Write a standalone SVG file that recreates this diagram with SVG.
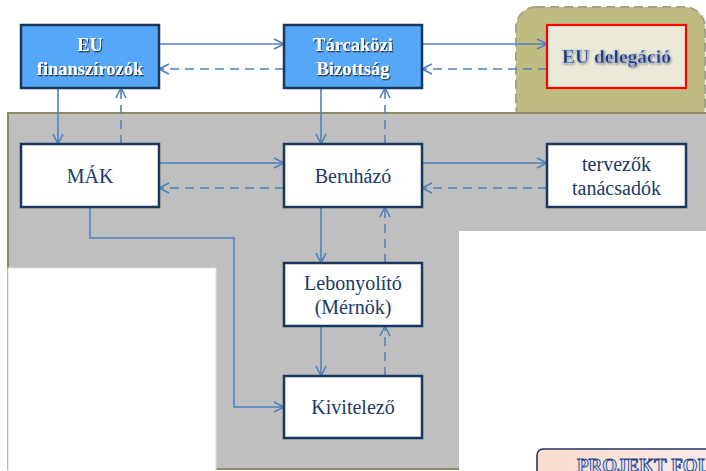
<svg xmlns="http://www.w3.org/2000/svg" width="706" height="471" viewBox="0 0 706 471">
<style>
.node rect{stroke:#17375E;stroke-width:2.5}
.white{fill:#FFFFFF}
.blue{fill:#57A7F9}
.t{font-family:"Liberation Serif","Times New Roman",serif;font-size:20px;fill:#1B3A66;text-anchor:middle}
.tb{font-family:"Liberation Serif","Times New Roman",serif;font-size:18.5px;font-weight:bold;fill:#FFFFFF;text-anchor:middle}
.c{fill:none;stroke:#4F81BD;stroke-width:1.6}
.d{stroke-dasharray:9 6}
</style>
<defs>
<marker id="ah" markerUnits="userSpaceOnUse" markerWidth="12" markerHeight="12" refX="10" refY="5" orient="auto" overflow="visible">
<path d="M0,0 L10,5 L0,10" fill="none" stroke="#4F81BD" stroke-width="1.6"/>
</marker>
<filter id="sh" x="-10%" y="-30%" width="130%" height="160%">
<feDropShadow dx="1" dy="1.3" stdDeviation="0.7" flood-color="#1a1a1a" flood-opacity="0.85"/>
</filter>
<filter id="sh2" x="-10%" y="-30%" width="130%" height="160%">
<feDropShadow dx="0.8" dy="1" stdDeviation="0.8" flood-color="#555555" flood-opacity="0.7"/>
</filter>
<linearGradient id="pg" x1="0" y1="0" x2="1" y2="0">
<stop offset="0" stop-color="#F9DCCB"/>
<stop offset="1" stop-color="#FDEDEF"/>
</linearGradient>
</defs>

<!-- background regions -->
<rect x="516" y="7" width="189" height="120" rx="20" fill="#BFBC82" stroke="#A6A486" stroke-width="2" stroke-dasharray="9 5"/>
<rect x="8" y="113" width="700" height="356" fill="#BFBFBF" stroke="#8E8B63" stroke-width="2"/>
<rect x="8" y="268" width="208" height="204" fill="#FFFFFF" stroke="#E6E6DC" stroke-width="1"/>
<rect x="459" y="231" width="250" height="242" fill="#FFFFFF"/>

<!-- connectors -->
<g id="connectors">
<line class="c" x1="159" y1="44" x2="284" y2="44" marker-end="url(#ah)"/>
<line class="c d" x1="284" y1="69" x2="159" y2="69" marker-end="url(#ah)"/>
<line class="c" x1="422" y1="44" x2="547" y2="44" marker-end="url(#ah)"/>
<line class="c d" x1="547" y1="69" x2="422" y2="69" marker-end="url(#ah)"/>
<line class="c" x1="58" y1="88" x2="58" y2="144" marker-end="url(#ah)"/>
<line class="c d" x1="121" y1="144" x2="121" y2="88" marker-end="url(#ah)"/>
<line class="c" x1="321" y1="88" x2="321" y2="144" marker-end="url(#ah)"/>
<line class="c d" x1="385" y1="144" x2="385" y2="88" marker-end="url(#ah)"/>
<line class="c" x1="159" y1="163" x2="284" y2="163" marker-end="url(#ah)"/>
<line class="c d" x1="284" y1="188" x2="159" y2="188" marker-end="url(#ah)"/>
<line class="c" x1="422" y1="163" x2="547" y2="163" marker-end="url(#ah)"/>
<line class="c d" x1="547" y1="188" x2="422" y2="188" marker-end="url(#ah)"/>
<line class="c" x1="321" y1="207" x2="321" y2="263" marker-end="url(#ah)"/>
<line class="c d" x1="385" y1="263" x2="385" y2="207" marker-end="url(#ah)"/>
<line class="c" x1="321" y1="326" x2="321" y2="376" marker-end="url(#ah)"/>
<line class="c d" x1="385" y1="376" x2="385" y2="326" marker-end="url(#ah)"/>
<polyline class="c" points="90,207 90,238 234,238 234,407 284,407" marker-end="url(#ah)"/>
</g>

<!-- nodes -->
<g id="eu-finanszirozok" class="node">
<rect class="blue" x="21" y="25" width="138" height="63"/>
<text class="tb" x="90" y="51" filter="url(#sh)">EU</text>
<text class="tb" x="90" y="75" filter="url(#sh)">finanszírozók</text>
</g>
<g id="tarcakozi-bizottsag" class="node">
<rect class="blue" x="284" y="25" width="138" height="63"/>
<text class="tb" x="353" y="51" filter="url(#sh)">Tárcaközi</text>
<text class="tb" x="353" y="75" filter="url(#sh)">Bizottság</text>
</g>
<g id="eu-delegacio">
<rect x="547" y="25" width="139" height="63" fill="#EBE9D7" stroke="#FF0000" stroke-width="2.2"/>
<text x="616.5" y="63" font-family="'Liberation Serif','Times New Roman',serif" font-size="19.5" font-weight="bold" fill="#1C3A86" stroke="#C9D6EE" stroke-width="0.35" text-anchor="middle" filter="url(#sh2)">EU delegáció</text>
</g>
<g id="mak" class="node">
<rect class="white" x="21" y="144" width="138" height="63"/>
<text class="t" x="90" y="183">MÁK</text>
</g>
<g id="beruhazo" class="node">
<rect class="white" x="284" y="144" width="138" height="63"/>
<text class="t" x="353" y="183">Beruházó</text>
</g>
<g id="tervezok" class="node">
<rect class="white" x="547" y="144" width="139" height="63"/>
<text class="t" x="616.5" y="171">tervezők</text>
<text class="t" x="616.5" y="195">tanácsadók</text>
</g>
<g id="lebonyolito" class="node">
<rect class="white" x="284" y="263" width="138" height="63"/>
<text class="t" x="353" y="290">Lebonyolító</text>
<text class="t" x="353" y="314">(Mérnök)</text>
</g>
<g id="kivitelezo" class="node">
<rect class="white" x="284" y="376" width="138" height="62"/>
<text class="t" x="353" y="414">Kivitelező</text>
</g>
<g id="projekt">
<rect x="537" y="449" width="200" height="40" rx="6" fill="url(#pg)" stroke="#1F3864" stroke-width="1.6"/>
<text x="577" y="472" font-family="'Liberation Serif','Times New Roman',serif" font-size="19" font-weight="bold" fill="#DCE6F5" stroke="#1F3F8A" stroke-width="0.9">PROJEKT FOL</text>
</g>
</svg>
